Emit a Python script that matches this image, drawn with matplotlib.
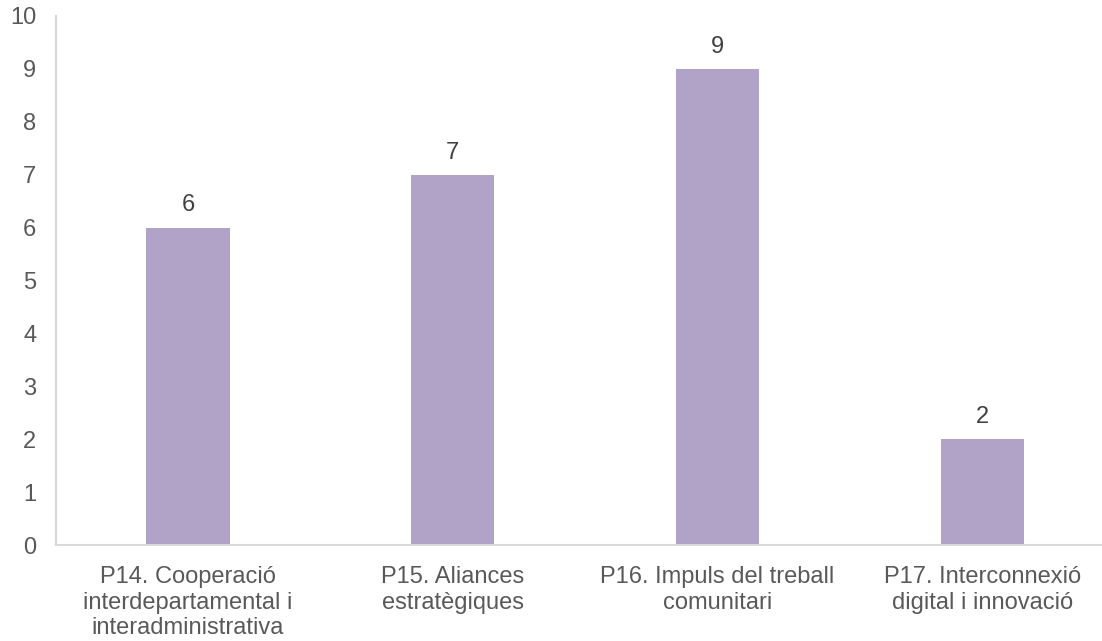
import numpy as np
import matplotlib.pyplot as plt

categories = [
    "P14. Cooperació\ninterdepartamental i\ninteradministrativa",
    "P15. Aliances\nestratègiques",
    "P16. Impuls del treball\ncomunitari",
    "P17. Interconnexió\ndigital i innovació",
]
values = [6, 7, 9, 2]
yticks = list(range(0, 11))

plt.rcParams['font.family'] = ['Liberation Sans', 'DejaVu Sans']

W, H = 1102, 641
fig = plt.figure(figsize=(W / 100, H / 100), dpi=100)
left, bottom, top = 55.7, 545, 16
ax = fig.add_axes([left / W, 1 - bottom / H, 1 - left / W, (bottom - top) / H])

x = np.arange(len(categories))
ax.bar(x, values, width=0.314, color='#B1A2C7')
for xi, v in zip(x, values):
    ax.annotate(str(v), (xi, v), xytext=(0, 8), textcoords='offset points',
                ha='center', va='bottom', fontsize=17, color='#404040')

step = 264.7
ax.set_xlim(-0.5, (W - left) / step - 0.5)
ax.set_ylim(0, 10)
ax.set_yticks(yticks)
ax.set_xticks(x)
ax.set_xticklabels(categories, linespacing=1.22)
ax.tick_params(axis='both', length=0, labelsize=17, labelcolor='#595959')
ax.tick_params(axis='y', pad=14)
ax.tick_params(axis='x', pad=15)

for s in ['top', 'right']:
    ax.spines[s].set_visible(False)
for s in ['left', 'bottom']:
    ax.spines[s].set_color('#D9D9D9')
    ax.spines[s].set_linewidth(1.5)

fig.savefig('out.png', dpi=100)
